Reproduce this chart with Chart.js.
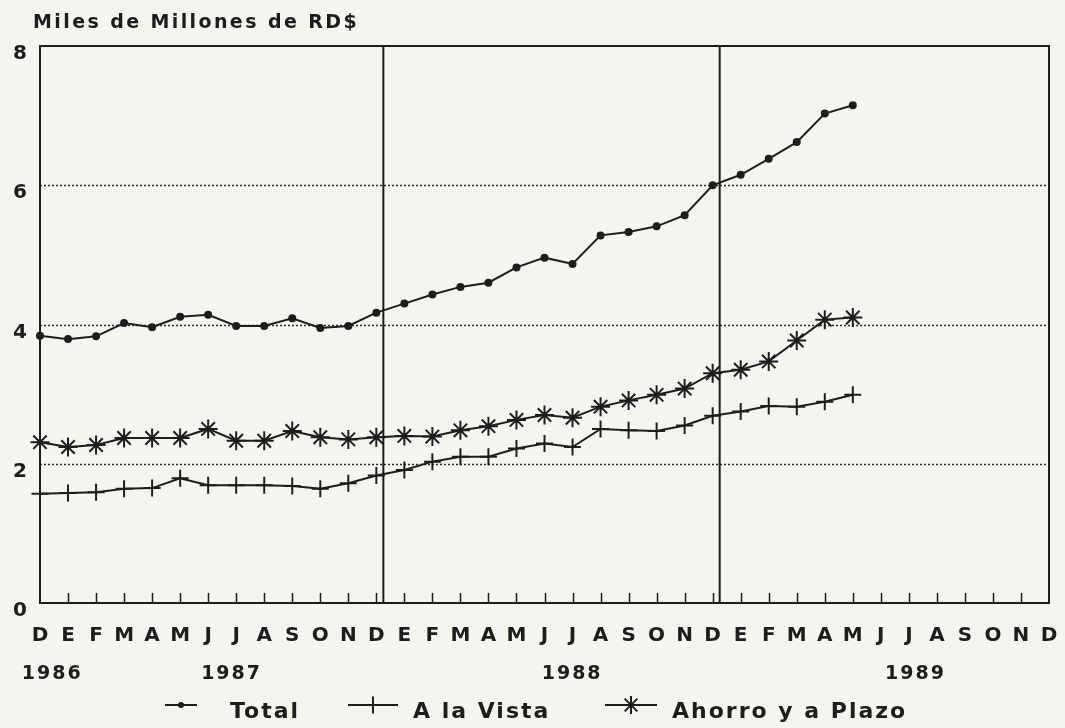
<!DOCTYPE html>
<html>
<head>
<meta charset="utf-8">
<script src="https://cdn.jsdelivr.net/npm/chart.js@4.4.1/dist/chart.umd.min.js"></script>
<style>
html,body{margin:0;padding:0;background:#f6f4ef;}
#wrap{position:relative;width:1065px;height:728px;}
canvas{display:block;}
</style>
</head>
<body>
<div id="wrap"><canvas id="c" width="1065" height="728"></canvas></div>
<script>
// ---- data ----
const monthLabels = ['D',
  'E','F','M','A','M','J','J','A','S','O','N','D',
  'E','F','M','A','M','J','J','A','S','O','N','D',
  'E','F','M','A','M','J','J','A','S','O','N','D'];
const yearLabels = ['1986','1987','1988','1989'];
const yTickValues = [0,2,4,6,8];
const seriesNames = ['Total','A la Vista','Ahorro y a Plazo'];

const totalValues = [3.84,3.79,3.83,4.02,3.96,4.11,4.14,3.98,3.98,4.09,3.95,3.98,
  4.17,4.30,4.43,4.54,4.60,4.82,4.96,4.87,5.28,5.33,5.41,5.57,
  6.00,6.15,6.38,6.62,7.03,7.15];
const vistaValues = [1.57,1.58,1.59,1.64,1.65,1.79,1.69,1.69,1.69,1.68,1.64,1.72,
  1.83,1.91,2.03,2.10,2.10,2.22,2.29,2.24,2.50,2.48,2.47,2.55,
  2.69,2.75,2.83,2.82,2.89,2.99];
const ahorroValues = [2.31,2.24,2.27,2.37,2.37,2.37,2.50,2.33,2.33,2.47,2.38,2.35,
  2.38,2.40,2.39,2.48,2.54,2.63,2.70,2.66,2.82,2.91,2.99,3.08,
  3.30,3.35,3.47,3.77,4.07,4.10];

// ---- style / layout ----
const INK = '#1d1d1d';
const FONT = '"DejaVu Sans", "Liberation Sans", Arial, sans-serif';
const yearPos = [0.4, 6.8, 18.95, 31.2];   // positions in month-index units
const legendLayout = [
  {lineFrom:165, lineTo:197, textX:230},
  {lineFrom:348, lineTo:398, textX:413},
  {lineFrom:605, lineTo:657, textX:672}
];

function drawMarker(ctx, style, x, y, r) {
  ctx.save();
  ctx.strokeStyle = INK; ctx.fillStyle = INK; ctx.lineWidth = 2;
  ctx.beginPath();
  if (style === 'circle') {
    ctx.arc(x, y, r, 0, Math.PI*2); ctx.fill();
  } else if (style === 'cross') {
    ctx.moveTo(x, y-r); ctx.lineTo(x, y+r);
    ctx.moveTo(x-r, y); ctx.lineTo(x+r, y); ctx.stroke();
  } else {
    for (let k=0;k<4;k++){
      const a = k*Math.PI/4;
      ctx.moveTo(x - r*Math.sin(a), y - r*Math.cos(a));
      ctx.lineTo(x + r*Math.sin(a), y + r*Math.cos(a));
    }
    ctx.stroke();
  }
  ctx.restore();
}

function setSpacing(ctx, v) { try { ctx.letterSpacing = v; } catch(e) {} }

const decor = {
  id: 'decor',
  beforeDatasetsDraw(chart) {
    const {ctx, chartArea: a, scales: {x, y}} = chart;
    ctx.save();
    // dotted horizontal gridlines
    ctx.strokeStyle = '#2a2a2a';
    ctx.lineWidth = 1.5;
    ctx.setLineDash([2, 2]);
    yTickValues.forEach(v => {
      if (v <= y.min || v >= y.max) return;
      const py = Math.round(y.getPixelForValue(v)) + 0.5;
      ctx.beginPath(); ctx.moveTo(a.left, py); ctx.lineTo(a.right, py); ctx.stroke();
    });
    ctx.setLineDash([]);
    // year boundary lines (end of December)
    ctx.lineWidth = 2;
    ctx.strokeStyle = INK;
    monthLabels.forEach((m, i) => {
      if (m === 'D' && i > 0 && i < monthLabels.length - 1) {
        const px = x.getPixelForValue(i) + 0.25 * (x.getPixelForValue(i+1) - x.getPixelForValue(i));
        ctx.beginPath(); ctx.moveTo(px, a.top); ctx.lineTo(px, a.bottom); ctx.stroke();
      }
    });
    // inner tick marks along bottom
    ctx.lineWidth = 1.5;
    for (let i = 1; i < monthLabels.length - 1; i++) {
      const px = Math.round(x.getPixelForValue(i)) + 0.5;
      ctx.beginPath(); ctx.moveTo(px, a.bottom); ctx.lineTo(px, a.bottom - 10); ctx.stroke();
    }
    // frame
    ctx.lineWidth = 2;
    ctx.strokeRect(a.left, a.top, a.right - a.left, a.bottom - a.top);
    ctx.restore();
  },
  afterDraw(chart) {
    const {ctx, scales: {x}} = chart;
    ctx.save();
    ctx.fillStyle = INK;
    // title
    setSpacing(ctx, '2.4px');
    ctx.font = 'bold 19px ' + FONT;
    ctx.textAlign = 'left'; ctx.textBaseline = 'alphabetic';
    ctx.fillText('Miles de Millones de RD$', 33, 28);
    // years
    setSpacing(ctx, '2px');
    ctx.font = 'bold 19px ' + FONT;
    ctx.textAlign = 'center'; ctx.textBaseline = 'middle';
    yearLabels.forEach((t, k) => {
      const i0 = Math.floor(yearPos[k]);
      const f = yearPos[k] - i0;
      const px = x.getPixelForValue(i0) + f * (x.getPixelForValue(i0+1) - x.getPixelForValue(i0));
      ctx.fillText(t, px + 1, 674);
    });
    // legend
    const styles = ['circle','cross','star'];
    const radii = [3, 8.5, 9];
    setSpacing(ctx, '2px');
    ctx.font = 'bold 22px ' + FONT;
    ctx.textAlign = 'left'; ctx.textBaseline = 'middle';
    seriesNames.forEach((name, k) => {
      const L = legendLayout[k];
      ctx.save();
      ctx.strokeStyle = INK; ctx.lineWidth = 2;
      ctx.beginPath(); ctx.moveTo(L.lineFrom, 705); ctx.lineTo(L.lineTo, 705); ctx.stroke();
      ctx.restore();
      drawMarker(ctx, styles[k], (L.lineFrom + L.lineTo)/2, 705, radii[k]);
      ctx.fillText(name, L.textX, 712);
    });
    ctx.restore();
  }
};

const tickFont = {family: FONT, size: 20, weight: 'bold'};

new Chart(document.getElementById('c'), {
  type: 'line',
  data: {
    labels: monthLabels,
    datasets: [
      {label: seriesNames[0], data: totalValues, borderColor: INK, backgroundColor: INK,
       borderWidth: 2, pointStyle: 'circle', pointRadius: 3, pointBackgroundColor: INK,
       pointBorderColor: INK, tension: 0},
      {label: seriesNames[1], data: vistaValues, borderColor: INK, backgroundColor: INK,
       borderWidth: 2, pointStyle: 'cross', pointRadius: 8.5, pointBorderWidth: 2,
       pointBorderColor: INK, tension: 0},
      {label: seriesNames[2], data: ahorroValues, borderColor: INK, backgroundColor: INK,
       borderWidth: 2, pointStyle: 'star', pointRadius: 9.5, pointBorderWidth: 2,
       pointBorderColor: INK, tension: 0}
    ]
  },
  options: {
    responsive: false,
    animation: false,
    devicePixelRatio: 1,
    layout: {padding: {top: 46, right: 16, bottom: 65, left: 0}},
    plugins: {legend: {display: false}, title: {display: false}, tooltip: {enabled: false}},
    scales: {
      x: {
        type: 'category',
        offset: false,
        grid: {display: false, drawTicks: false},
        border: {display: false},
        ticks: {font: tickFont, color: INK, padding: 21, maxRotation: 0, autoSkip: false},
        afterFit(s) { s.height = 60; s.paddingLeft = 0; s.paddingRight = 0; }
      },
      y: {
        min: 0, max: 8,
        afterBuildTicks(s) { s.ticks = yTickValues.map(v => ({value: v})); },
        grid: {display: false, drawTicks: false},
        border: {display: false},
        ticks: {font: tickFont, color: INK, padding: 13, labelOffset: 8},
        afterFit(s) { s.width = 40; }
      }
    }
  },
  plugins: [decor]
});
</script>
</body>
</html>
